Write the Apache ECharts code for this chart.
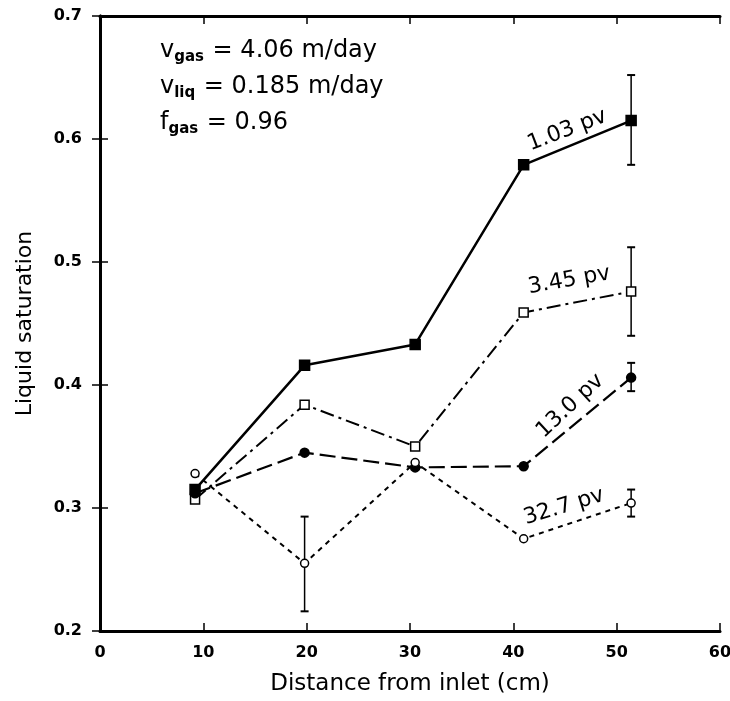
<!DOCTYPE html>
<html>
<head>
<meta charset="utf-8">
<script src="https://cdn.jsdelivr.net/npm/echarts@6/dist/echarts.min.js"></script>
<style>
  html, body { margin: 0; padding: 0; background: #fff; }
  #chart { width: 730px; height: 701px; }
</style>
</head>
<body>
<div id="chart"></div>
<script>
// distance from inlet (cm)
var xPos = [9.2, 19.8, 30.5, 41.0, 51.4];

// liquid saturation per pore volume
var pv103 = [0.315, 0.416, 0.433, 0.579, 0.615];
var pv345 = [0.307, 0.384, 0.350, 0.459, 0.476];
var pv130 = [0.312, 0.345, 0.333, 0.334, 0.406];
var pv327 = [0.328, 0.255, 0.337, 0.275, 0.304];

// error bars: [x, low, high]
var errBars = [
    [51.4, 0.579, 0.652],
    [51.4, 0.440, 0.512],
    [51.4, 0.395, 0.418],
    [19.8, 0.216, 0.293],
    [51.4, 0.293, 0.315]
];

// curve labels: [x, y, text, rotation]
var curveLabels = [
    [45.2, 0.607, '1.03 pv', 21],
    [45.4, 0.485, '3.45 pv', 10],
    [45.5, 0.383, '13.0 pv', 43],
    [44.9, 0.301, '32.7 pv', 17]
];

var xTicks = [0, 10, 20, 30, 40, 50, 60];

function pairs(ys) {
    return xPos.map(function (x, i) { return [x, ys[i]]; });
}

var myChart = echarts.init(document.getElementById('chart'));
var fontFam = 'DejaVu Sans, sans-serif';

function lineSeries(name, ys, symbol, filled, size, dash, width) {
    return {
        name: name,
        type: 'line',
        data: pairs(ys),
        symbol: symbol,
        symbolSize: size,
        showAllSymbol: true,
        itemStyle: {
            color: filled ? '#000' : '#fff',
            borderColor: '#000',
            borderWidth: 1.5
        },
        lineStyle: { color: '#000', width: width, type: dash },
        z: 3
    };
}

var option = {
    animation: false,
    backgroundColor: '#fff',
    grid: { left: 100, right: 10, top: 16, bottom: 70, outerBoundsMode: 'none' },
    xAxis: [{
        type: 'value',
        min: 0, max: 60, interval: 10,
        name: 'Distance from inlet (cm)',
        nameLocation: 'middle',
        nameGap: 42,
        nameTextStyle: { fontSize: 23, color: '#000', fontFamily: fontFam },
        axisLine: { lineStyle: { color: '#000', width: 3 } },
        axisTick: { inside: true, length: 8, lineStyle: { color: '#000', width: 1.5 } },
        axisLabel: { fontSize: 16, color: '#000', fontWeight: 'bold', fontFamily: fontFam, margin: 14,
            formatter: function (v) { return xTicks.indexOf(v) >= 0 ? String(v) : ''; } },
        splitLine: { show: false }
    }, {
        type: 'value',
        position: 'top',
        min: 0, max: 60, interval: 10,
        axisLine: { show: true, lineStyle: { color: '#000', width: 3 } },
        axisTick: { show: true, inside: true, length: 8, lineStyle: { color: '#000', width: 1.5 } },
        axisLabel: { show: false },
        splitLine: { show: false }
    }],
    yAxis: [{
        type: 'value',
        min: 0.2, max: 0.7, interval: 0.1,
        name: 'Liquid saturation',
        nameLocation: 'middle',
        nameGap: 64,
        nameTextStyle: { fontSize: 22, color: '#000', fontFamily: fontFam },
        axisLine: { show: true, lineStyle: { color: '#000', width: 3 } },
        axisTick: { show: true, inside: true, length: 8, lineStyle: { color: '#000', width: 1.5 } },
        axisLabel: { fontSize: 16, color: '#000', fontWeight: 'bold', fontFamily: fontFam, margin: 18,
            formatter: function (v) { return v.toFixed(1); } },
        splitLine: { show: false }
    }, {
        type: 'value',
        position: 'right',
        min: 0.2, max: 0.7, interval: 0.1,
        axisLine: { show: true, lineStyle: { color: '#000', width: 3 } },
        axisTick: { show: true, inside: true, length: 8, lineStyle: { color: '#000', width: 1.5 } },
        axisLabel: { show: false },
        splitLine: { show: false }
    }],
    graphic: [{
        type: 'text',
        left: 160, top: 36,
        style: {
            text: '{m|v}{s|gas}{m| = 4.06 m/day}\n{m|v}{s|liq}{m| = 0.185 m/day}\n{m|f}{s|gas}{m| = 0.96}',
            rich: {
                m: { fontSize: 24, fontFamily: fontFam, fill: '#000', lineHeight: 36 },
                s: { fontSize: 15, fontFamily: fontFam, fill: '#000', fontWeight: 'bold', padding: [14, 1, 0, 0], lineHeight: 36 }
            }
        }
    }],
    series: [
        lineSeries('1.03 pv', pv103, 'rect', true, 10, 'solid', 2.5),
        lineSeries('3.45 pv', pv345, 'rect', false, 9, [14, 5, 3, 5], 2),
        lineSeries('13.0 pv', pv130, 'circle', true, 9, [16, 6], 2.2),
        lineSeries('32.7 pv', pv327, 'circle', false, 8, [5, 5], 2),
        {
            type: 'custom',
            data: errBars,
            z: 2,
            renderItem: function (params, api) {
                var x = api.value(0);
                var lo = api.coord([x, api.value(1)]);
                var hi = api.coord([x, api.value(2)]);
                var cap = 4;
                return {
                    type: 'group',
                    children: [
                        { type: 'line', shape: { x1: lo[0], y1: lo[1], x2: hi[0], y2: hi[1] }, style: { stroke: '#000', lineWidth: 1.5 } },
                        { type: 'line', shape: { x1: lo[0] - cap, y1: lo[1], x2: lo[0] + cap, y2: lo[1] }, style: { stroke: '#000', lineWidth: 2 } },
                        { type: 'line', shape: { x1: hi[0] - cap, y1: hi[1], x2: hi[0] + cap, y2: hi[1] }, style: { stroke: '#000', lineWidth: 2 } }
                    ]
                };
            }
        },
        {
            type: 'scatter',
            symbolSize: 0,
            itemStyle: { opacity: 1 },
            data: curveLabels.map(function (d) {
                return {
                    value: [d[0], d[1]],
                    label: { show: true, formatter: d[2], rotate: d[3], position: 'inside',
                        fontSize: 22, color: '#000', fontFamily: fontFam }
                };
            }),
            z: 4
        }
    ]
};

myChart.setOption(option);
</script>
</body>
</html>
